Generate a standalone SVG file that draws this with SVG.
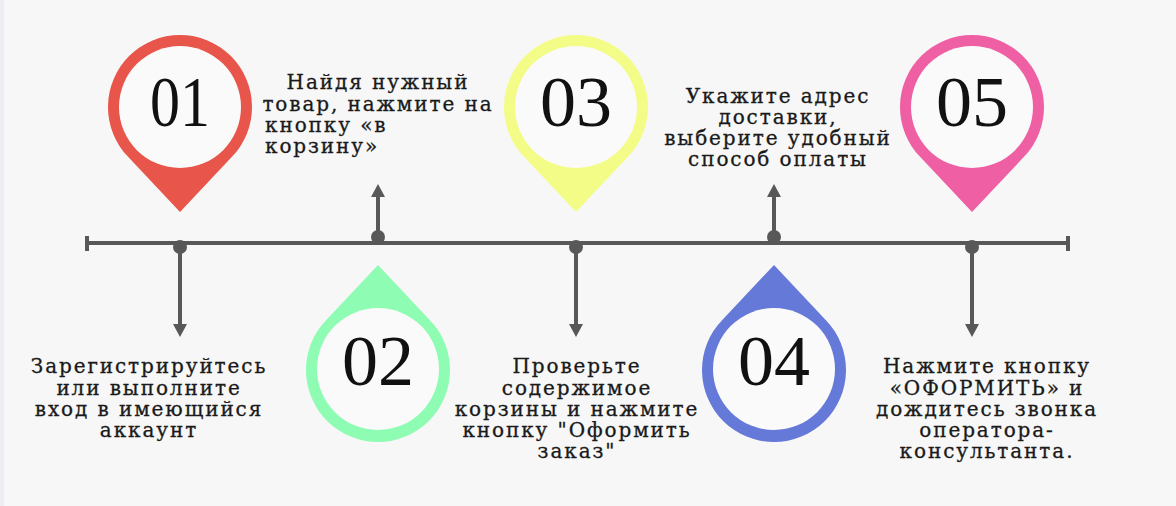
<svg xmlns="http://www.w3.org/2000/svg" width="1176" height="506" viewBox="0 0 1176 506">
<defs>
<style>
.num{font-family:"Liberation Serif","Times New Roman",serif;font-size:72px;fill:#111;text-anchor:middle}
.lbl,.lbl-l{font-family:"DejaVu Serif",serif;font-size:20px;letter-spacing:1.9px;fill:#1a1a1a;stroke:#1a1a1a;stroke-width:0.3px}
.lbl{text-anchor:middle}
.ln{stroke:#585858;stroke-width:4;fill:none}
.dot{fill:#585858}
.ring{fill:#fafafa}
</style>
</defs>
<rect width="1176" height="506" fill="#f7f7f7"/>
<rect width="4" height="506" fill="#eceef1"/>

<g id="connectors">
<line class="ln" x1="87" y1="243" x2="1068" y2="243"/>
<line class="ln" x1="87" y1="236" x2="87" y2="251"/>
<line class="ln" x1="1068" y1="236" x2="1068" y2="251"/>
<circle class="dot" cx="180" cy="247" r="7"/>
<path d="M180,247 V325" class="ln"/>
<path d="M173,324 L187,324 L180,337 Z" class="dot"/>
<circle class="dot" cx="378" cy="237" r="7"/>
<path d="M378,237 V196" class="ln"/>
<path d="M371,197 L385,197 L378,184 Z" class="dot"/>
<circle class="dot" cx="576" cy="247" r="7"/>
<path d="M576,247 V325" class="ln"/>
<path d="M569,324 L583,324 L576,337 Z" class="dot"/>
<circle class="dot" cx="774" cy="237" r="7"/>
<path d="M774,237 V196" class="ln"/>
<path d="M767,197 L781,197 L774,184 Z" class="dot"/>
<circle class="dot" cx="972" cy="247" r="7"/>
<path d="M972,247 V325" class="ln"/>
<path d="M965,324 L979,324 L972,337 Z" class="dot"/>
</g>

<g id="pin1">
<path d="M180,212 L128.3,157.1 A72,72 0 1 1 231.7,157.1 Z" fill="#e8554a"/>
<circle class="ring" cx="180" cy="107" r="61"/>
<text class="num" x="180" y="126" textLength="60" lengthAdjust="spacingAndGlyphs">01</text>
</g>
<g id="pin2">
<path d="M378,265 L326.3,319.9 A72,72 0 1 0 429.7,319.9 Z" fill="#8ffcb4"/>
<circle class="ring" cx="378" cy="369" r="61"/>
<text class="num" x="378" y="385">02</text>
</g>
<g id="pin3">
<path d="M576,212 L524.3,157.1 A72,72 0 1 1 627.7,157.1 Z" fill="#f4fc88"/>
<circle class="ring" cx="576" cy="107" r="61"/>
<text class="num" x="576" y="126">03</text>
</g>
<g id="pin4">
<path d="M774,265 L722.3,319.9 A72,72 0 1 0 825.7,319.9 Z" fill="#6479d8"/>
<circle class="ring" cx="774" cy="369" r="61"/>
<text class="num" x="774" y="385">04</text>
</g>
<g id="pin5">
<path d="M972,212 L920.3,157.1 A72,72 0 1 1 1023.7,157.1 Z" fill="#ef5fa3"/>
<circle class="ring" cx="972" cy="107" r="61"/>
<text class="num" x="972" y="126">05</text>
</g>

<g id="label1">
<text class="lbl" x="149" y="373">Зарегистрируйтесь</text>
<text class="lbl" x="149" y="395">или выполните</text>
<text class="lbl" x="149" y="416">вход в имеющийся</text>
<text class="lbl" x="149" y="437">аккаунт</text>
</g>
<g id="label2">
<text class="lbl" x="378" y="89">Найдя нужный</text>
<text class="lbl" x="378" y="111">товар, нажмите на</text>
<text class="lbl-l" x="265" y="132">кнопку «в</text>
<text class="lbl-l" x="265" y="153">корзину»</text>
</g>
<g id="label3">
<text class="lbl" x="577" y="373">Проверьте</text>
<text class="lbl" x="577" y="395">содержимое</text>
<text class="lbl" x="577" y="416">корзины и нажмите</text>
<text class="lbl" x="577" y="437">кнопку "Оформить</text>
<text class="lbl" x="577" y="458">заказ"</text>
</g>
<g id="label4">
<text class="lbl" x="778" y="103">Укажите адрес</text>
<text class="lbl" x="778" y="124">доставки,</text>
<text class="lbl" x="778" y="145">выберите удобный</text>
<text class="lbl" x="778" y="166">способ оплаты</text>
</g>
<g id="label5">
<text class="lbl" x="987" y="373">Нажмите кнопку</text>
<text class="lbl" x="987" y="395">«ОФОРМИТЬ» и</text>
<text class="lbl" x="987" y="416">дождитесь звонка</text>
<text class="lbl" x="987" y="437">оператора-</text>
<text class="lbl" x="987" y="458">консультанта.</text>
</g>
</svg>
